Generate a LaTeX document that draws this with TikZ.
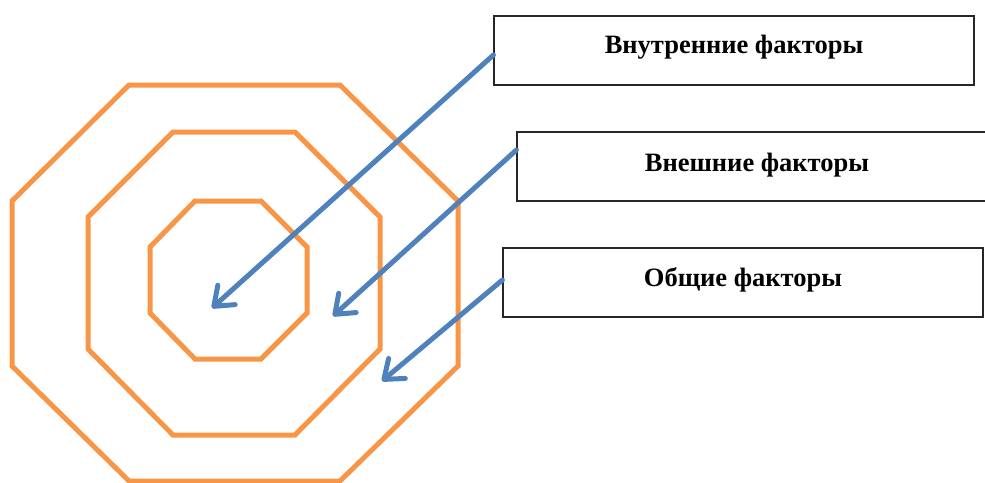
\documentclass[tikz,border=0pt]{standalone}
\usepackage{fontspec}
\setmainfont{Liberation Serif}
\usetikzlibrary{arrows.meta}
\definecolor{oct}{HTML}{F79646}
\definecolor{arr}{HTML}{4F81BD}
\tikzset{
  octa/.style={draw=oct, line width=5pt, line join=miter},
  factorbox/.style={draw=black!85, line width=1.2pt, rectangle, minimum width=480pt, minimum height=69pt,
    inner sep=0pt, text height=37pt, text depth=32pt, font=\fontsize{26.5}{30}\selectfont\bfseries},
  pointer/.style={draw=arr, line width=5pt, line cap=round, -{Straight Barb[length=17pt,width=26pt,round]}}
}
\begin{document}
\begin{tikzpicture}[x=1pt,y=-1pt]
\useasboundingbox (0,0) rectangle (985,482);
% octagons
\draw[octa] (129,85) -- (340,85) -- (458,201) -- (458,366) -- (340,481) -- (129,481) -- (12,366) -- (12,201) -- cycle;
\draw[octa] (173,132) -- (295,132) -- (380,217) -- (380,349) -- (295,435) -- (173,435) -- (88,349) -- (88,217) -- cycle;
\draw[octa] (195,201) -- (261,201) -- (307,247) -- (307,313) -- (261,359) -- (195,359) -- (150,313) -- (150,247) -- cycle;
% boxes
\node[factorbox] (b1) at (734,50.5) {Внутренние факторы};
\node[factorbox, text height=39pt, text depth=30pt] (b2) at (757,166.5) {Внешние факторы};
\node[factorbox, text height=38pt, text depth=31pt] (b3) at (743,282.5) {Общие факторы};
% targets
\coordinate (t1) at (212,308);
\coordinate (t2) at (333,316);
\coordinate (t3) at (382,381);
\draw[pointer] ([yshift=-4.5pt]b1.west) -- (t1);
\draw[pointer] ([yshift=16.5pt]b2.west) -- (t2);
\draw[pointer] ([yshift=2.5pt]b3.west) -- (t3);
\end{tikzpicture}
\end{document}
